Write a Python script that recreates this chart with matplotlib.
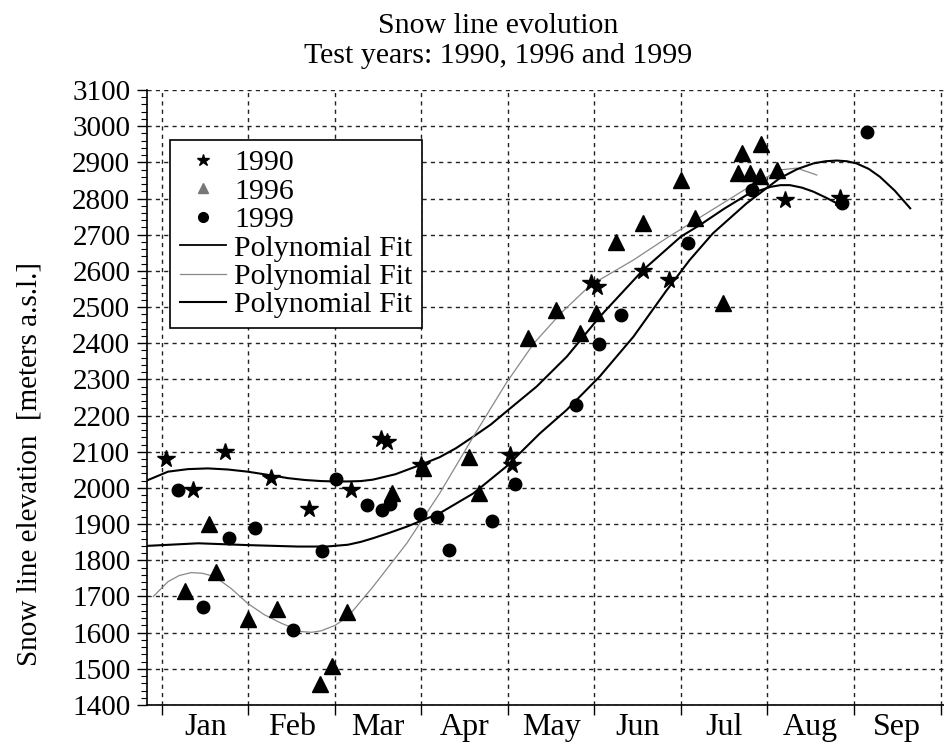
import matplotlib
matplotlib.use('Agg')
import matplotlib.pyplot as plt
from matplotlib.lines import Line2D
from matplotlib.ticker import MultipleLocator, FixedLocator
import numpy as np

plt.rcParams['font.family'] = ['Liberation Serif', 'DejaVu Serif']

# x unit = months from 1 Jan (0 = start of Jan, 1 = start of Feb, ...)
months = ['Jan', 'Feb', 'Mar', 'Apr', 'May', 'Jun', 'Jul', 'Aug', 'Sep']

x1990 = [0.05, 0.36, 0.73, 1.26, 1.70, 2.19, 2.53, 2.60, 2.99, 4.02, 4.05,
         4.96, 5.03, 5.56, 5.86, 7.20, 7.84]
y1990 = [2080, 1994, 2100, 2027, 1941, 1994, 2135, 2128, 2063, 2091, 2063,
         2567, 2556, 2601, 2575, 2795, 2801]

x1996 = [0.27, 0.54, 0.63, 0.99, 1.33, 1.83, 1.97, 2.14, 2.66, 3.02, 3.55, 3.66,
         4.23, 4.56, 4.83, 5.02, 5.25, 5.56, 6.00, 6.16, 6.48, 6.66, 6.70, 6.80,
         6.91, 6.93, 7.11]
y1996 = [1716, 1900, 1767, 1638, 1665, 1458, 1508, 1656, 1987, 2054, 2086, 1987,
         2414, 2492, 2427, 2483, 2681, 2732, 2851, 2745, 2510, 2871, 2925, 2871,
         2862, 2951, 2880]

x1999 = [0.18, 0.48, 0.78, 1.08, 1.51, 1.85, 2.01, 2.37, 2.54, 2.64, 2.98, 3.18,
         3.32, 3.81, 4.08, 4.79, 5.05, 5.31, 6.08, 6.82, 7.86, 8.15]
y1999 = [1994, 1670, 1863, 1890, 1607, 1827, 2025, 1953, 1939, 1956, 1928, 1919,
         1829, 1910, 2010, 2229, 2398, 2477, 2676, 2824, 2787, 2985]

# polynomial fit curves
fit1990_x = [-0.16, 0.07, 0.30, 0.53, 0.76, 0.99, 1.23, 1.46, 1.65, 1.84, 2.00,
             2.15, 2.30, 2.44, 2.70, 2.98, 3.21, 3.40, 3.60, 3.80, 3.98, 4.33,
             4.68, 5.06, 5.56, 6.00, 6.22, 6.50, 6.76, 7.03, 7.15, 7.26, 7.40,
             7.53, 7.68, 7.84]
fit1990_y = [2022, 2045, 2052, 2054, 2051, 2045, 2036, 2027, 2022, 2019, 2018,
             2018, 2019, 2023, 2038, 2063, 2085, 2110, 2142, 2175, 2211, 2280,
             2363, 2473, 2602, 2695, 2727, 2772, 2810, 2832, 2837, 2837, 2830,
             2819, 2802, 2782]

fit1996_x = [-0.10, 0.07, 0.20, 0.34, 0.47, 0.61, 0.80, 0.99, 1.18, 1.38, 1.61,
             1.73, 1.84, 2.00, 2.15, 2.44, 2.83, 3.21, 3.60, 3.98, 4.30, 4.62,
             4.95, 5.45, 5.83, 6.20, 6.76, 7.14, 7.34, 7.57]
fit1996_y = [1700, 1741, 1758, 1766, 1764, 1755, 1722, 1681, 1650, 1626, 1603,
             1601, 1605, 1620, 1644, 1727, 1847, 1985, 2142, 2290, 2400, 2485,
             2560, 2630, 2690, 2745, 2828, 2879, 2884, 2865]

fit1999_x = [-0.16, 0.42, 0.99, 1.57, 1.90, 2.15, 2.30, 2.44, 2.63, 2.83, 3.21,
             3.60, 3.98, 4.37, 4.68, 5.06, 5.45, 5.83, 6.10, 6.37, 6.76, 7.14,
             7.35, 7.53, 7.67, 7.80, 7.92, 8.03, 8.17, 8.30, 8.47, 8.65]
fit1999_y = [1840, 1847, 1842, 1838, 1838, 1843, 1851, 1861, 1876, 1893, 1930,
             1985, 2059, 2151, 2216, 2308, 2418, 2545, 2630, 2704, 2787, 2856,
             2882, 2897, 2903, 2905, 2903, 2897, 2882, 2860, 2822, 2773]

fig = plt.figure(figsize=(9.45, 7.42), dpi=100)
ax = fig.add_axes([147/945, 37/742, 798/945, 615/742])

ax.plot(fit1990_x, fit1990_y, color='black', lw=1.5, zorder=3)
ax.plot(fit1996_x, fit1996_y, color='#888888', lw=0.9, zorder=3)
ax.plot(fit1999_x, fit1999_y, color='black', lw=1.5, zorder=3)

ax.plot(x1990, y1990, ls='none', marker='*', ms=13, color='black', zorder=4)
ax.plot(x1996, y1996, ls='none', marker='^', ms=11, color='black', zorder=4)
ax.plot(x1999, y1999, ls='none', marker='o', ms=9, color='black', zorder=4)

ax.set_xlim(-0.173, 9.052)
ax.set_ylim(1400, 3100)

ax.xaxis.set_major_locator(FixedLocator(range(10)))
ax.xaxis.set_minor_locator(FixedLocator([i + 0.5 for i in range(9)]))
ax.set_xticklabels([], minor=False)
ax.set_xticklabels(months, minor=True)
ax.tick_params(axis='x', which='major', direction='out', length=7, width=1)
ax.tick_params(axis='x', which='minor', length=0, pad=6, labelsize=23)

ax.yaxis.set_major_locator(MultipleLocator(100))
ax.yaxis.set_minor_locator(MultipleLocator(20))
ax.tick_params(axis='y', which='major', direction='out', length=7, width=1,
               pad=5, labelsize=21)
ax.tick_params(axis='y', which='minor', direction='out', length=4.5, width=0.8)

ax.spines['top'].set_visible(False)
ax.spines['right'].set_visible(False)
ax.spines['left'].set_linewidth(1.2)
ax.spines['bottom'].set_linewidth(1.2)

ax.grid(True, which='major', color='#222222', lw=1.0, ls=(0, (3, 3)))

handles = [
    Line2D([], [], ls='none', marker='*', ms=9, color='black'),
    Line2D([], [], ls='none', marker='^', ms=7.5, color='#777777'),
    Line2D([], [], ls='none', marker='o', ms=7, color='black'),
    Line2D([], [], color='black', lw=1.3),
    Line2D([], [], color='#888888', lw=0.9),
    Line2D([], [], color='black', lw=1.5),
]
labels = ['1990', '1996', '1999', 'Polynomial Fit', 'Polynomial Fit', 'Polynomial Fit']
leg = ax.legend(handles, labels, loc='upper left', bbox_to_anchor=(0.0288, 0.9187),
                borderaxespad=0, fontsize=21.5, handlelength=1.55, handletextpad=0.28,
                labelspacing=0.05, borderpad=0.32, fancybox=False, framealpha=1,
                edgecolor='black')
leg.get_frame().set_linewidth(1.2)

fig.text(498/945, 1 - 33/742, 'Snow line evolution', ha='center', va='baseline',
         fontsize=21.5)
fig.text(498/945, 1 - 63/742, 'Test years: 1990, 1996 and 1999', ha='center',
         va='baseline', fontsize=21.5)
fig.text(30/945, 1 - 464/742, 'Snow line elevation  [meters a.s.l.]', rotation=90,
         ha='center', va='center', fontsize=21)

fig.savefig('out.png', dpi=100)
